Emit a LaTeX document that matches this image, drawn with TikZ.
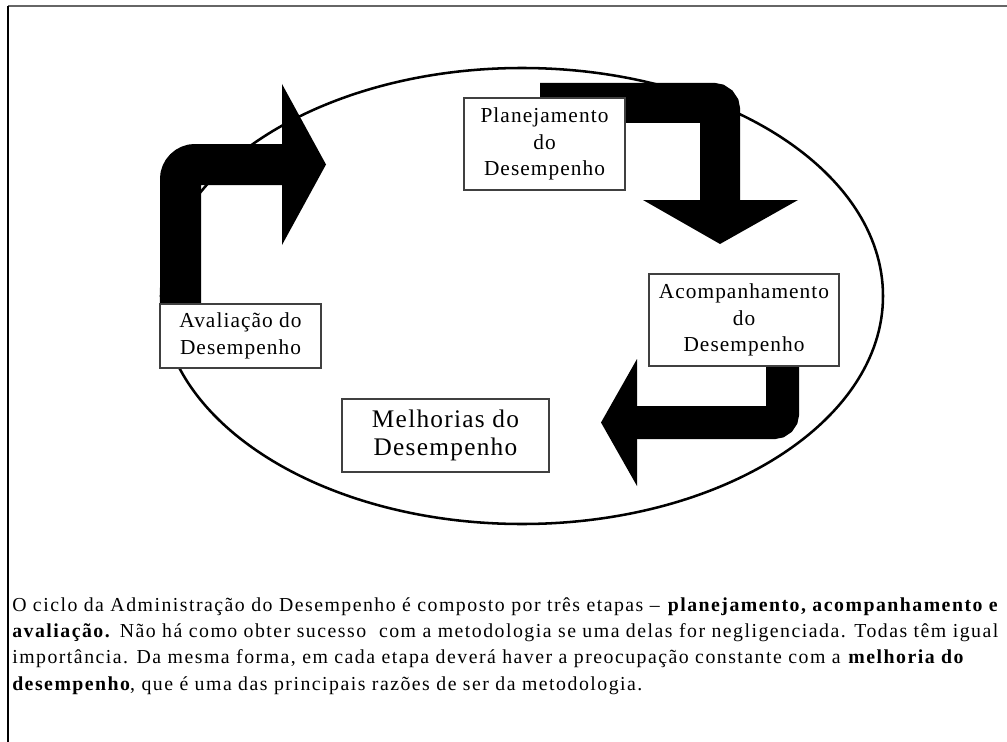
\documentclass[tikz,border=0pt]{standalone}
\usepackage{fontspec}
\setmainfont[LetterSpace=5]{Liberation Serif}
\newfontfamily\corpo[LetterSpace=7.5]{Liberation Serif}
\tikzset{
    caixa/.style={
           rectangle,
           draw=black!75, line width=0.8pt,
           fill=white,
           inner sep=0pt,
           align=center,
           font=\fontsize{16}{20}\selectfont},
    haste/.style={
           draw=black},
    ponta/.style={
           fill=black}
}

\begin{document}
\begin{tikzpicture}[x=0.75pt, y=-0.75pt]
        \useasboundingbox (0,0) rectangle (1007,742);
        % moldura
        \draw[black!60, line width=1.1pt] (8,6) -- (1007,6);
        \draw[line width=1.1pt] (8,6) -- (8,742);
        % ciclo
        \draw[line width=1.9pt] (522,296) ellipse [x radius=361, y radius=228];
        % setas
        \coordinate (p1) at (326,164.5);
        \coordinate (p2) at (720,244);
        \coordinate (p3) at (601,422.5);
        \draw[haste, line width=30.75pt, rounded corners=11pt] (180.5,330) |- (284,164.5);
        \fill[ponta] (282,84) -- (p1) -- (282,245) -- cycle;
        \draw[haste, line width=30pt, rounded corners=5pt] (540,103) -| (720,202);
        \fill[ponta] (643,200) -- (p2) -- (798,200) -- cycle;
        \draw[haste, line width=24.75pt, rounded corners=6.5pt] (782.5,350) |- (635,422.5);
        \fill[ponta] (637,359) -- (p3) -- (637,486) -- cycle;
        % etapas
        \node[caixa, minimum width=120.75pt, minimum height=69pt] (plan) at (544.5,144) {Planejamento\\do\\Desempenho};
        \node[caixa, minimum width=142.5pt, minimum height=69pt] (acomp) at (744,320) {Acompanhamento\\do\\Desempenho};
        \node[caixa, minimum width=120.75pt, minimum height=48pt] (aval) at (240.5,336) {Avaliação do\\Desempenho};
        \node[caixa, minimum width=155.25pt, minimum height=54.75pt,
              font=\fontsize{19}{21}\selectfont] (melh) at (445.5,435.5) {Melhorias do\\Desempenho};
        % texto
        \node[anchor=base west, align=left, inner sep=0pt,
              font=\corpo\fontsize{14.85}{19.7}\selectfont] (texto) at (12,690)
             {O ciclo da Administração do Desempenho é composto por três etapas – \textbf{planejamento, acompanhamento e}\\
              \textbf{avaliação.} Não há como obter sucesso\ \ com a metodologia se uma delas for negligenciada. Todas têm igual\\
              importância. Da mesma forma, em cada etapa deverá haver a preocupação constante com a \textbf{melhoria do}\\
              \textbf{desempenho}, que é uma das principais razões de ser da metodologia.};
\end{tikzpicture}
\end{document}
